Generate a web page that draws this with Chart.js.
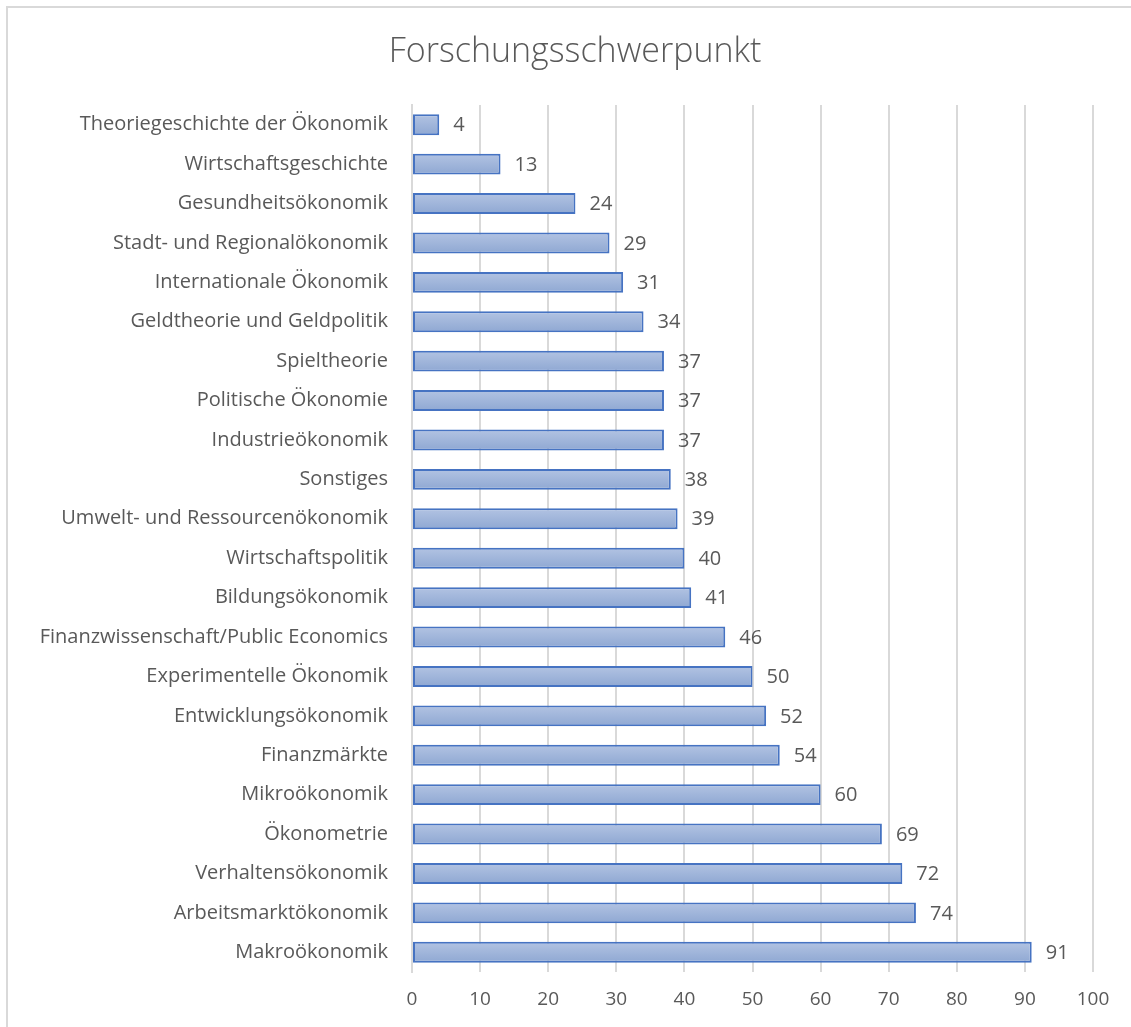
<!DOCTYPE html>
<html>
<head>
<meta charset="utf-8">
<script src="https://cdn.jsdelivr.net/npm/chart.js@4.4.1/dist/chart.umd.min.js"></script>
<style>
  html, body { margin: 0; padding: 0; background: #fff; overflow: hidden; }
  #wrap { position: absolute; left: 0; top: 0; width: 1131px; height: 1027px; }
  #frame { position: absolute; left: 6px; top: 6px; width: 1200px; height: 1100px; border: 2px solid #d9d9d9; }
  #chart { position: absolute; left: 0; top: 0; }
</style>
</head>
<body>
<div id="wrap">
  <div id="frame"></div>
  <canvas id="chart" width="1131" height="1027"></canvas>
</div>
<script>
const chartTitle = 'Forschungsschwerpunkt';
const categories = [
  'Theoriegeschichte der Ökonomik',
  'Wirtschaftsgeschichte',
  'Gesundheitsökonomik',
  'Stadt- und Regionalökonomik',
  'Internationale Ökonomik',
  'Geldtheorie und Geldpolitik',
  'Spieltheorie',
  'Politische Ökonomie',
  'Industrieökonomik',
  'Sonstiges',
  'Umwelt- und Ressourcenökonomik',
  'Wirtschaftspolitik',
  'Bildungsökonomik',
  'Finanzwissenschaft/Public Economics',
  'Experimentelle Ökonomik',
  'Entwicklungsökonomik',
  'Finanzmärkte',
  'Mikroökonomik',
  'Ökonometrie',
  'Verhaltensökonomik',
  'Arbeitsmarktökonomik',
  'Makroökonomik'
];
const values = [4, 13, 24, 29, 31, 34, 37, 37, 37, 38, 39, 40, 41, 46, 50, 52, 54, 60, 69, 72, 74, 91];
const xTicks = [0, 10, 20, 30, 40, 50, 60, 70, 80, 90, 100];

const textColor = '#595959';
const fontFamily = "'Open Sans', 'Noto Sans', sans-serif";

// bars get a light-to-dark vertical gradient like the Excel style
function barFill(ctx) {
  const chart = ctx.chart;
  const y = chart.scales && chart.scales.y;
  if (!y || ctx.dataIndex === undefined || !chart.chartArea) return '#9db1d9';
  const c = y.getPixelForValue(ctx.dataIndex);
  const g = chart.ctx.createLinearGradient(0, c - 11, 0, c + 11);
  g.addColorStop(0, '#b3c4e3');
  g.addColorStop(1, '#8ea7d2');
  return g;
}

const valueLabels = {
  id: 'valueLabels',
  afterDatasetsDraw(chart) {
    const ctx = chart.ctx;
    ctx.save();
    ctx.font = '20px ' + fontFamily;
    ctx.fillStyle = textColor;
    ctx.textAlign = 'left';
    ctx.textBaseline = 'middle';
    chart.getDatasetMeta(0).data.forEach(function (bar, i) {
      ctx.fillText(String(values[i]), bar.x + 14, bar.y + 1);
    });
    ctx.restore();
  }
};

// title centred on the whole chart frame, not on the padded layout box
const titleText = {
  id: 'titleText',
  afterDraw(chart) {
    const ctx = chart.ctx;
    ctx.save();
    ctx.font = '300 34px ' + fontFamily;
    ctx.fillStyle = textColor;
    ctx.textAlign = 'center';
    ctx.textBaseline = 'middle';
    ctx.fillText(chartTitle, 575, 52);
    ctx.restore();
  }
};

new Chart(document.getElementById('chart').getContext('2d'), {
  type: 'bar',
  data: {
    labels: categories,
    datasets: [{
      data: values,
      backgroundColor: barFill,
      borderColor: '#4673c2',
      borderWidth: 2,
      borderSkipped: false,
      barPercentage: 0.53,
      categoryPercentage: 1
    }]
  },
  options: {
    indexAxis: 'y',
    responsive: false,
    animation: false,
    layout: { padding: { left: 10, right: 38, top: 105, bottom: 0 } },
    plugins: {
      legend: { display: false },
      tooltip: { enabled: false },
      title: { display: false }
    },
    scales: {
      x: {
        min: 0,
        max: 100,
        afterBuildTicks(scale) {
          scale.ticks = xTicks.map(v => ({ value: v }));
        },
        grid: { color: '#d9d9d9', lineWidth: 2, drawTicks: false },
        border: { display: false },
        ticks: { color: textColor, font: { family: fontFamily, size: 19 }, padding: 16 },
        afterFit(scale) { scale.height = 55; }
      },
      y: {
        grid: { display: false },
        border: { display: true, color: '#d9d9d9', width: 2 },
        ticks: { color: textColor, font: { family: fontFamily, size: 20 }, padding: 16, autoSkip: false },
        afterFit(scale) { scale.width = 402; }
      }
    }
  },
  plugins: [valueLabels, titleText]
});
</script>
</body>
</html>
